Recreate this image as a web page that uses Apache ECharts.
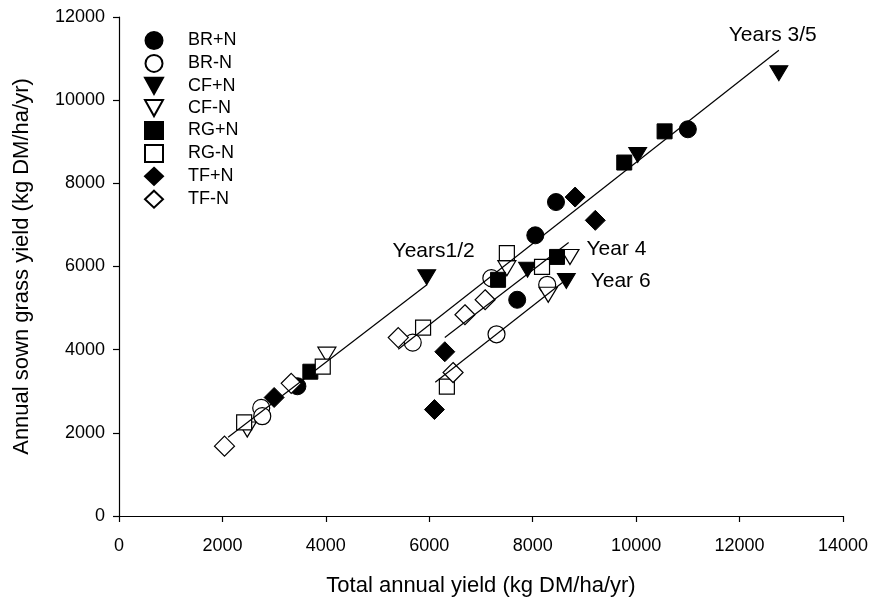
<!DOCTYPE html>
<html>
<head>
<meta charset="utf-8">
<script src="https://cdn.jsdelivr.net/npm/echarts@6/dist/echarts.min.js"></script>
<style>html,body{margin:0;padding:0;background:#fff}#c{width:872px;height:602px}</style>
</head>
<body>
<div id="c"></div>
<script>
// ---- data ----
const xTicks = [0, 2000, 4000, 6000, 8000, 10000, 12000, 14000];
const yTicks = [0, 2000, 4000, 6000, 8000, 10000, 12000];

const seriesNames = ['BR+N', 'BR-N', 'CF+N', 'CF-N', 'RG+N', 'RG-N', 'TF+N', 'TF-N'];

const brPlusN = [[3450, 3120], [7700, 5200], [8050, 6750], [8450, 7550], [11000, 9300]];
const brMinusN = [[2750, 2600], [2770, 2400], [5680, 4170], [7200, 5720], [7300, 4370], [8280, 5560]];
const cfPlusN = [[5950, 5740], [7900, 5920], [8650, 5650], [10030, 8680], [12760, 10650]];
const cfMinusN = [[2480, 2080], [4020, 3880], [7500, 5960], [8720, 6230], [8300, 5320]];
const rgPlusN = [[3700, 3470], [7330, 5680], [8470, 6230], [9770, 8500], [10550, 9250]];
const rgMinusN = [[2420, 2250], [3940, 3590], [5880, 4530], [7500, 6320], [8180, 5990], [6340, 3110]];
const tfPlusN = [[3000, 2850], [6300, 3950], [6100, 2560], [8820, 7670], [9210, 7110]];
const tfMinusN = [[2040, 1680], [3330, 3190], [5400, 4290], [6690, 4840], [7080, 5200], [6460, 3450]];

const lineYears12 = [[2110, 1895], [5960, 5565]];
const lineYears35 = [[5400, 4010], [12760, 11200]];
const lineYear4 = [[6300, 4295], [8695, 6575]];
const lineYear6 = [[6115, 3215], [8600, 5640]];

const annotationTexts = ['Years 3/5', 'Years1/2', 'Year 4', 'Year 6'];
const annotationAt = [[11790, 11570], [5290, 6360], [9040, 6410], [9120, 5640]];

// ---- chart ----
const FONT = 'Liberation Sans, Arial, sans-serif';
const TRI_DOWN = 'path://M0,0L20,0L10,18Z';
const filled = {color: '#000', borderColor: '#000', borderWidth: 1, opacity: 1};
const open = {color: '#fff', borderColor: '#000', borderWidth: 1.2, opacity: 1};

const markerDefs = [
  {data: brPlusN, symbol: 'circle', size: 17, style: filled},
  {data: brMinusN, symbol: 'circle', size: 17, style: open},
  {data: cfPlusN, symbol: TRI_DOWN, size: [18, 15], style: filled},
  {data: cfMinusN, symbol: TRI_DOWN, size: [18, 15], style: open},
  {data: rgPlusN, symbol: 'rect', size: 15, style: filled},
  {data: rgMinusN, symbol: 'rect', size: 15, style: open},
  {data: tfPlusN, symbol: 'diamond', size: 20, style: filled},
  {data: tfMinusN, symbol: 'diamond', size: 20, style: open}
];

const series = markerDefs.map((d, i) => ({
  name: seriesNames[i],
  type: 'scatter',
  data: d.data,
  symbol: d.symbol,
  symbolSize: d.size,
  itemStyle: d.style,
  z: 2,
  emphasis: {disabled: true}
}));

[lineYears12, lineYears35, lineYear4, lineYear6].forEach(l => {
  series.push({
    type: 'line', data: l, showSymbol: false, symbol: 'none',
    lineStyle: {color: '#000', width: 1.2, opacity: 1}, z: 3, silent: true
  });
});

series.push({
  type: 'scatter',
  data: annotationAt.map((p, i) => ({value: p, name: annotationTexts[i]})),
  symbolSize: 0,
  silent: true,
  z: 4,
  itemStyle: {opacity: 1},
  label: {
    show: true, position: 'right', distance: 0,
    formatter: p => p.name,
    fontFamily: FONT, fontSize: 21, color: '#000', opacity: 1,
    align: 'left', verticalAlign: 'middle'
  }
});

const chart = echarts.init(document.getElementById('c'), null, {renderer: 'canvas'});
chart.setOption({
  animation: false,
  backgroundColor: '#fff',
  textStyle: {fontFamily: FONT, color: '#000'},
  grid: {left: 119, right: 29, top: 17, bottom: 85, containLabel: false},
  legend: {
    data: seriesNames,
    orient: 'vertical',
    left: 139,
    top: 26,
    padding: 5,
    itemWidth: 18,
    itemHeight: 17,
    itemGap: 3.9,
    textStyle: {fontFamily: FONT, fontSize: 18, lineHeight: 18, color: '#000', padding: [0, 0, 0, 20]},
    selectedMode: false
  },
  xAxis: {
    type: 'value', min: xTicks[0], max: xTicks[xTicks.length - 1], interval: 2000,
    name: 'Total annual yield (kg DM/ha/yr)', nameLocation: 'middle', nameGap: 59,
    nameTextStyle: {fontFamily: FONT, fontSize: 22, color: '#000'},
    axisLine: {show: true, onZero: false, lineStyle: {color: '#000', width: 1.2}},
    axisTick: {show: true, inside: false, length: 6, lineStyle: {color: '#000', width: 1.2}},
    axisLabel: {fontFamily: FONT, fontSize: 18, color: '#000', margin: 21, formatter: v => String(v)},
    splitLine: {show: false}
  },
  yAxis: {
    type: 'value', min: yTicks[0], max: yTicks[yTicks.length - 1], interval: 2000,
    name: 'Annual sown grass yield (kg DM/ha/yr)', nameLocation: 'middle', nameGap: 86,
    nameTextStyle: {fontFamily: FONT, fontSize: 22, color: '#000'},
    axisLine: {show: true, onZero: false, lineStyle: {color: '#000', width: 1.2}},
    axisTick: {show: true, inside: false, length: 6, lineStyle: {color: '#000', width: 1.2}},
    axisLabel: {fontFamily: FONT, fontSize: 18, color: '#000', margin: 14, formatter: v => String(v)},
    splitLine: {show: false}
  },
  series: series
});
</script>
</body>
</html>
